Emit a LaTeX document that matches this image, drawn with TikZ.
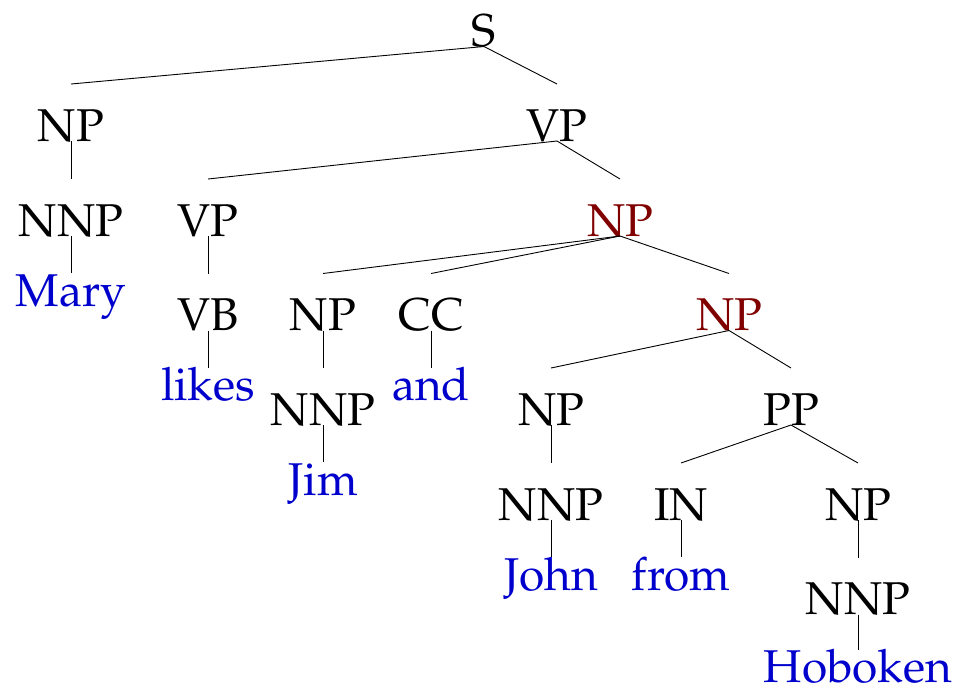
\documentclass[tikz,border=0pt]{standalone}
\usepackage[T1]{fontenc}
\renewcommand{\rmdefault}{ppl}
\usetikzlibrary{calc}
\definecolor{wordblue}{RGB}{0,0,205}
\definecolor{npred}{RGB}{128,0,0}
\begin{document}
\begin{tikzpicture}[x=1pt,y=-1pt,
  lab/.style={inner sep=0pt,outer sep=0pt,anchor=base,font=\fontsize{46}{50}\selectfont},
  cat/.style={lab,text=black},
  hcat/.style={lab,text=npred},
  word/.style={lab,text=wordblue},
  edge/.style={draw=black,line width=0.9pt}]
\useasboundingbox (0,0) rectangle (953,689);
% levels
\def\Lz{46.5}\def\La{141}\def\Lb{236}\def\Lc{330.5}\def\Ld{425}\def\Le{520}\def\Lf{614.5}
\node[cat] (S) at (484,\Lz) {S};
\node[cat] (NPa) at (71,\La) {NP};
\node[cat] (VPa) at (557,\La) {VP};
\node[cat] (NNPa) at (71,\Lb) {NNP};
\node[cat] (VPb) at (208,\Lb) {VP};
\node[hcat] (NPb) at (620,\Lb) {NP};
\node[word] (Mary) at (71,306) {Mary};
\node[cat] (VB) at (208,\Lc) {VB};
\node[cat] (NPc) at (323,\Lc) {NP};
\node[cat] (CC) at (431,\Lc) {CC};
\node[hcat] (NPd) at (729,\Lc) {NP};
\node[word] (likes) at (208,400.5) {likes};
\node[word] (and) at (431,400.5) {and};
\node[cat] (NNPc) at (323,\Ld) {NNP};
\node[cat] (NPe) at (551,\Ld) {NP};
\node[cat] (PP) at (791,\Ld) {PP};
\node[word] (Jim) at (323,495) {Jim};
\node[cat] (NNPe) at (551,\Le) {NNP};
\node[cat] (IN) at (681,\Le) {IN};
\node[cat] (NPf) at (858,\Le) {NP};
\node[word] (John) at (551,590) {John};
\node[word] (from) at (681,590) {from};
\node[cat] (NNPf) at (858,\Lf) {NNP};
\node[word] (Hoboken) at (858,682.5) {Hoboken};
% connectors: parent baseline to 57 above child baseline (categories)
\foreach \p/\c in {S/NPa,S/VPa,NPa/NNPa,VPa/VPb,VPa/NPb,VPb/VB,NPb/NPc,NPb/CC,NPb/NPd,
  NPc/NNPc,NPd/NPe,NPd/PP,NPe/NNPe,PP/IN,PP/NPf,NPf/NNPf}
  \draw[edge] (\p.base) -- ($(\c.base)+(0,-57)$);
% connectors to words
\foreach \p/\c in {NNPa/Mary,VB/likes,CC/and,NNPc/Jim,NNPe/John,IN/from,NNPf/Hoboken}
  \draw[edge] (\p.base) -- ($(\c.base)+(0,-33)$);
\end{tikzpicture}
\end{document}
